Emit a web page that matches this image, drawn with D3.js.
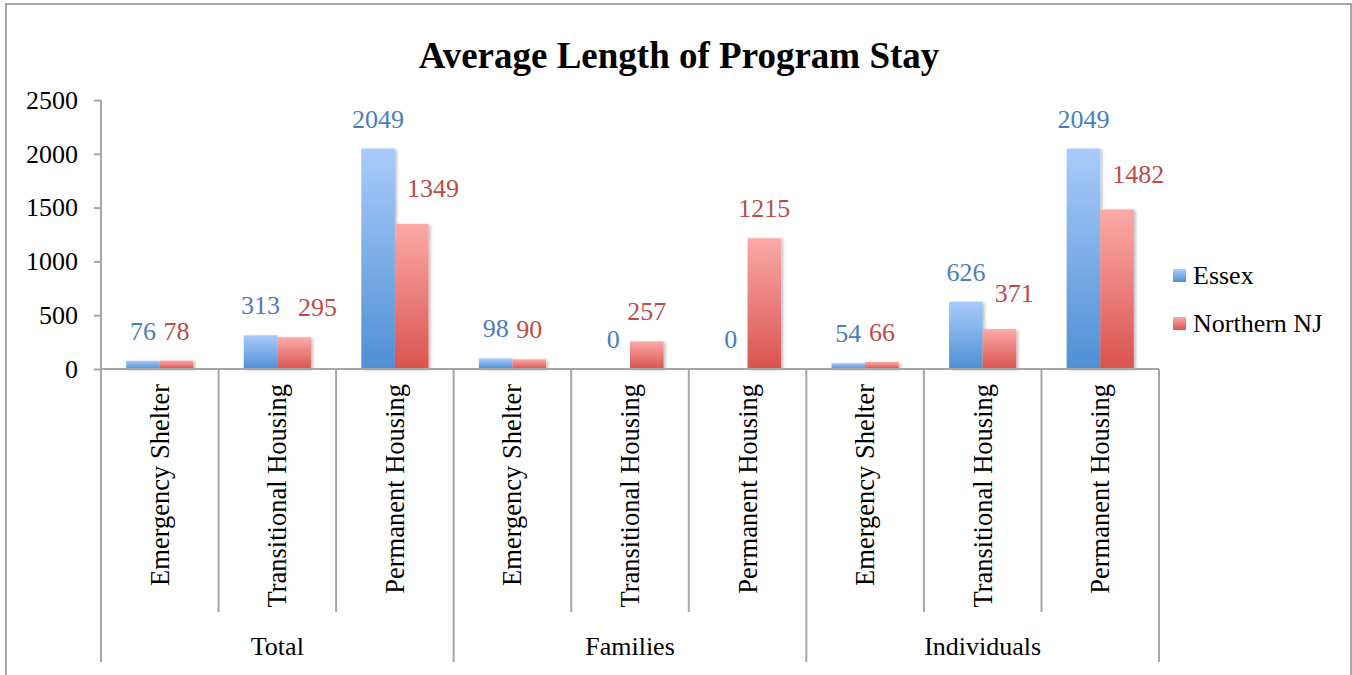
<!DOCTYPE html>
<html>
<head>
<meta charset="utf-8">
<script src="https://cdn.jsdelivr.net/npm/d3@7"></script>
<style>
  body { margin: 0; background: #fff; }
  svg text { font-family: "Liberation Serif", "Times New Roman", serif; }
</style>
</head>
<body>
<div id="root"></div>
<script>
// DATA
const groups = ["Total", "Families", "Individuals"];
const programs = ["Emergency Shelter", "Transitional Housing", "Permanent Housing"];
const seriesNames = ["Essex", "Northern NJ"];
const essex = [76, 313, 2049, 98, 0, 0, 54, 626, 2049];
const northernNJ = [78, 295, 1349, 90, 257, 1215, 66, 371, 1482];
const yTicks = [0, 500, 1000, 1500, 2000, 2500];

// DIMENSIONS
let width = 1352, height = 675;
let plotLeft = 101, plotRight = 1159, plotTop = 100, plotBottom = 369;
let serif = '"Liberation Serif", "Times New Roman", serif';
let fontSize = 26;

let svg = d3.select('#root').append('svg')
  .attr('width', width)
  .attr('height', height);

// gradients
let defs = svg.append('defs');
function grad(id, top, bottom) {
  let g = defs.append('linearGradient').attr('id', id)
    .attr('x1', 0).attr('y1', 0).attr('x2', 0).attr('y2', 1);
  g.append('stop').attr('offset', '0%').attr('stop-color', top);
  g.append('stop').attr('offset', '100%').attr('stop-color', bottom);
}
grad('gEssex', '#a9cbfa', '#4f8fd5');
grad('gNNJ', '#fbaaa8', '#d9534e');
let shadow = defs.append('filter').attr('id', 'shadow')
  .attr('x', '-20%').attr('y', '-20%').attr('width', '150%').attr('height', '150%');
shadow.append('feDropShadow').attr('dx', 2).attr('dy', 1).attr('stdDeviation', 1.5)
  .attr('flood-color', '#000').attr('flood-opacity', 0.25);

// outer border
svg.append('rect')
  .attr('x', 6).attr('y', 4)
  .attr('width', 1345).attr('height', 690)
  .attr('fill', 'none').attr('stroke', '#a6a6a6').attr('stroke-width', 2);

// title
svg.append('text')
  .attr('x', 679).attr('y', 68)
  .attr('text-anchor', 'middle')
  .style('font-family', serif)
  .style('font-size', '37px').style('font-weight', 'bold')
  .text('Average Length of Program Stay');

// build rows
let rows = [];
groups.forEach((g, gi) => programs.forEach((p, pi) => {
  let i = gi * programs.length + pi;
  rows.push({ key: g + '|' + p, group: g, program: p, values: [essex[i], northernNJ[i]] });
}));

// scales
let xScale = d3.scaleBand()
  .domain(rows.map(d => d.key))
  .range([plotLeft, plotRight])
  .paddingInner(0).paddingOuter(0);

let bw = xScale.bandwidth() / 3.5;

let xSub = d3.scaleBand()
  .domain(seriesNames)
  .range([0, bw * 2]);

let yScale = d3.scaleLinear()
  .domain([0, 2500])
  .range([plotBottom, plotTop]);

let fills = ['url(#gEssex)', 'url(#gNNJ)'];
let labelColors = ['#4a7ebb', '#be4b48'];

// y axis
let yAxis = svg.append('g')
  .attr('transform', `translate(${plotLeft},0)`)
  .call(d3.axisLeft(yScale).tickValues(yTicks).tickFormat(d3.format('d')).tickSize(7).tickPadding(16));
yAxis.attr('font-family', null);
yAxis.selectAll('line, path').attr('stroke', '#a6a6a6').attr('stroke-width', 2);
yAxis.select('.domain').attr('d', `M0,${plotTop}V${plotBottom}`);
yAxis.selectAll('text').style('font-size', fontSize + 'px').style('fill', '#000')
  .style('font-family', serif);

// bars
let cat = svg.selectAll('.cat')
  .data(rows)
  .enter().append('g')
  .attr('class', 'cat')
  .attr('transform', d => `translate(${xScale(d.key) + bw * 0.75},0)`);

cat.selectAll('rect')
  .data(d => d.values.map((v, i) => ({ v, i })))
  .enter().append('rect')
  .filter(d => d.v > 0)
  .attr('x', d => xSub(seriesNames[d.i]))
  .attr('y', d => yScale(d.v))
  .attr('width', xSub.bandwidth())
  .attr('height', d => yScale(0) - yScale(d.v))
  .attr('fill', d => fills[d.i])
  .attr('filter', 'url(#shadow)');

// value labels, with the Northern NJ label nudged right when it would collide
function labelPos(values, i) {
  let cx = xSub(seriesNames[i]) + xSub.bandwidth() / 2;
  let y = yScale(values[i]) - 21;
  if (i === 1) {
    let half = String(values[1]).length * fontSize / 4;
    let blueHalf = String(values[0]).length * fontSize / 4;
    let blueCx = xSub(seriesNames[0]) + xSub.bandwidth() / 2;
    let blueY = yScale(values[0]) - 21;
    let blueRight = blueCx + blueHalf;
    // Essex bar reaches up past the label
    if (yScale(values[0]) < y) {
      let minLeft = xSub(seriesNames[1]) + 12;
      if (cx - half < minLeft) { cx = minLeft + half; y -= 6; }
    } else if (Math.abs(blueY - y) < fontSize && cx - half < blueRight) {
      // Essex label sits on the same line
      cx = blueRight + 18 + half;
    }
  }
  return { cx, y };
}

cat.selectAll('.val')
  .data(d => d.values.map((v, i) => ({ v, i, pos: labelPos(d.values, i) })))
  .enter().append('text')
  .attr('class', 'val')
  .attr('x', d => d.pos.cx)
  .attr('y', d => d.pos.y)
  .attr('text-anchor', 'middle')
  .style('font-family', serif)
  .style('font-size', fontSize + 'px')
  .style('fill', d => labelColors[d.i])
  .text(d => d.v);

// x axis line
svg.append('line')
  .attr('x1', plotLeft).attr('x2', plotRight)
  .attr('y1', plotBottom).attr('y2', plotBottom)
  .attr('stroke', '#a6a6a6').attr('stroke-width', 2);

// category dividers
rows.forEach((d, i) => {
  if (i === 0) return;
  let isGroup = i % programs.length === 0;
  svg.append('line')
    .attr('x1', xScale(d.key)).attr('x2', xScale(d.key))
    .attr('y1', plotBottom).attr('y2', isGroup ? 662 : 612)
    .attr('stroke', '#a6a6a6').attr('stroke-width', 2);
});
[plotLeft, plotRight].forEach(x => {
  svg.append('line')
    .attr('x1', x).attr('x2', x)
    .attr('y1', plotBottom).attr('y2', 662)
    .attr('stroke', '#a6a6a6').attr('stroke-width', 2);
});

// category labels (rotated)
svg.selectAll('.catLabel')
  .data(rows)
  .enter().append('text')
  .attr('class', 'catLabel')
  .attr('transform', d => `translate(${xScale(d.key) + xScale.bandwidth() / 2 + 9},384) rotate(-90)`)
  .attr('text-anchor', 'end')
  .style('font-family', serif)
  .style('font-size', '26.5px')
  .text(d => d.program);

// group labels
groups.forEach((g, gi) => {
  let x0 = xScale(rows[gi * 3].key);
  let x1 = xScale(rows[gi * 3 + 2].key) + xScale.bandwidth();
  svg.append('text')
    .attr('x', (x0 + x1) / 2).attr('y', 655)
    .attr('text-anchor', 'middle')
    .style('font-family', serif)
    .style('font-size', fontSize + 'px')
    .text(g);
});

// legend
let legend = svg.append('g').attr('transform', 'translate(1173,269)');
let legendItems = legend.selectAll('.legend-item')
  .data(seriesNames)
  .enter().append('g')
  .attr('class', 'legend-item')
  .attr('transform', (d, i) => `translate(0, ${i * 48})`);
legendItems.append('rect')
  .attr('width', 13).attr('height', 13)
  .attr('fill', (d, i) => fills[i]);
legendItems.append('text')
  .attr('x', 20).attr('y', 15)
  .style('font-family', serif)
  .style('font-size', fontSize + 'px')
  .text(d => d);
</script>
</body>
</html>
